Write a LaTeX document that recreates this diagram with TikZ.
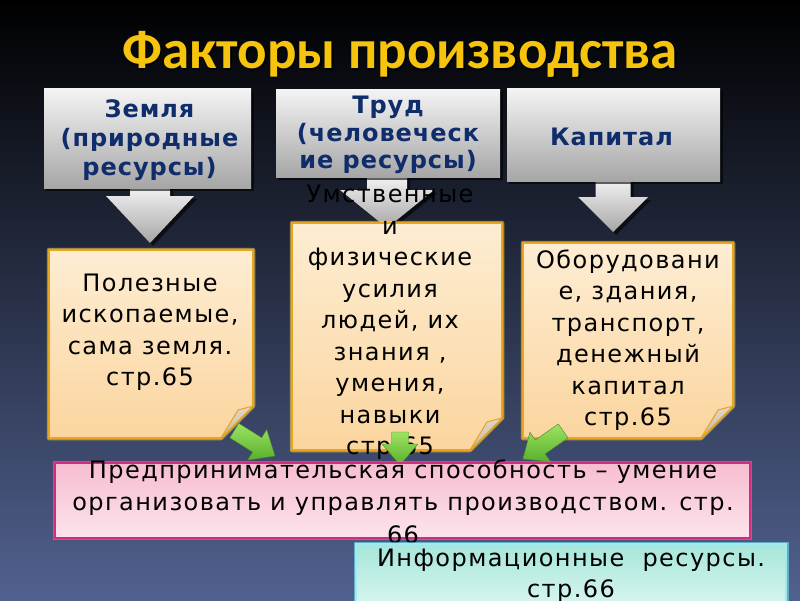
\documentclass[tikz,border=0pt]{standalone}
\usepackage{fontspec}
\newfontfamily\dv{DejaVu Sans}[LetterSpace=6]
\newfontfamily\dvb{DejaVu Sans}[LetterSpace=4]
\newfontfamily\carl{Carlito}
\definecolor{bgmid}{HTML}{1E2943}
\definecolor{bgbot}{HTML}{51618F}
\definecolor{titleyellow}{HTML}{F6C40C}
\definecolor{navytext}{HTML}{0F2C6B}
\definecolor{graytop}{HTML}{F4F4F4}
\definecolor{graybot}{HTML}{A6A6A6}
\definecolor{notetop}{HTML}{FDEDD3}
\definecolor{notebot}{HTML}{FBD59E}
\definecolor{noteline}{HTML}{E9A51E}
\definecolor{noteglow}{HTML}{FFD84A}
\definecolor{flap}{HTML}{CBBBA8}
\definecolor{gtop}{HTML}{9EE264}
\definecolor{gbot}{HTML}{58B02C}
\definecolor{pinktop}{HTML}{F7BDD1}
\definecolor{pinkmid}{HTML}{F2A0BD}
\definecolor{pinkbot}{HTML}{FCE4EC}
\definecolor{pinkline}{HTML}{D22C80}
\definecolor{cyantop}{HTML}{A6E6DA}
\definecolor{cyanmid}{HTML}{5DC4AA}
\definecolor{cyanbot}{HTML}{D8F5EF}
\definecolor{cyanline}{HTML}{74E4EC}
\tikzset{
  grayshade/.style={top color=graytop, bottom color=graybot},
  shadowfill/.style={fill=black, opacity=.6},
  boxtext/.style={font=\dvb\bfseries\fontsize{24}{29}\selectfont, text=navytext, align=center, inner sep=0pt, anchor=base},
  notetext/.style={font=\dv\fontsize{24}{31.5}\selectfont, text=black, align=center, inner sep=0pt, anchor=base},
  bartext/.style={font=\dv\fontsize{24}{32.5}\selectfont, text=black, align=center, inner sep=0pt, anchor=base},
  noteshade/.style={top color=notetop, bottom color=notebot},
}
% sticky note: left, top, right, bottom
\newcommand\stickynote[4]{%
  \draw[noteglow, opacity=.55, line width=4.5pt, line join=round]
    (#1,#2) -- (#3,#2) -- (#3,#4-32) -- (#3-32,#4) -- (#1,#4) -- cycle;
  \shade[noteshade, draw=noteline, line width=1.8pt, line join=round]
    (#1,#2) -- (#3,#2) -- (#3,#4-32) -- (#3-32,#4) -- (#1,#4) -- cycle;
  \shade[top color=flap!60!white, bottom color=flap, draw=noteline, line width=1pt, line join=round]
    (#3,#4-32) -- (#3-15,#4-28) -- (#3-32,#4) -- cycle;
}
% gray down arrow: centre x, top, head top, tip, half shaft, half head
\newcommand\grayarrow[6]{%
  \fill[shadowfill, shift={(3,3)}]
    (#1-#5,#2) -- (#1+#5,#2) -- (#1+#5,#3) -- (#1+#6,#3) -- (#1,#4) -- (#1-#6,#3) -- (#1-#5,#3) -- cycle;
  \shade[grayshade]
    (#1-#5,#2) -- (#1+#5,#2) -- (#1+#5,#3) -- (#1+#6,#3) -- (#1,#4) -- (#1-#6,#3) -- (#1-#5,#3) -- cycle;
}
% green arrow: tip x, tip y, direction angle, length
\newcommand\greenarrow[4]{%
  \begin{scope}[shift={(#1,#2)}, rotate=#3]
    \shade[top color=gtop, bottom color=gbot, draw=gbot!80!black, line width=.4pt, line join=round]
      (0,0) -- (-21,18) -- (-21,8.5) -- (-#4,8.5) -- (-#4,-8.5) -- (-21,-8.5) -- (-21,-18) -- cycle;
  \end{scope}
}
\begin{document}
\begin{tikzpicture}[x=1pt,y=-1pt]
\useasboundingbox (0,0) rectangle (800,600);
% background
\shade[top color=black, middle color=bgmid, bottom color=bgbot] (0,0) rectangle (800,600);

% title
\node[font=\carl\bfseries\fontsize{55}{60}\selectfont, text=black, anchor=base, opacity=.8] (titleshadow) at (401.5,70) {Факторы производства};
\node[font=\carl\bfseries\fontsize{55}{60}\selectfont, text=titleyellow, anchor=base] (title) at (400,68) {Факторы производства};

% gray arrows (behind the boxes)
\grayarrow{150}{185}{196}{243}{20}{44}
\grayarrow{387}{175}{190}{228}{20}{47}
\grayarrow{613}{178}{197}{232}{17.5}{35}

% gray boxes
\fill[shadowfill] (46,91) rectangle (254,191);
\shade[grayshade] (44,88) rectangle (251,188);
\fill[shadowfill] (278,92) rectangle (503,180);
\shade[grayshade] (276,89) rectangle (500,177);
\fill[shadowfill] (509,91) rectangle (723,184);
\shade[grayshade] (507,88) rectangle (720,181);

% (multi-line nodes: anchor base = baseline of the last line)
\node[boxtext] (zemlya) at (149.5,175.5) {Земля\\(природные\\ресурсы)};
\node[boxtext, font=\dvb\bfseries\fontsize{24}{27.5}\selectfont] (trud) at (388,168.5) {Труд\\(человеческ\\ие ресурсы)};
\node[boxtext] (kapital) at (611.5,145) {Капитал};

% sticky notes
\stickynote{49}{250}{253}{438}
\stickynote{292}{223}{502}{450}
\stickynote{523}{243}{733}{438}

\node[notetext] (n1) at (150,385.5) {Полезные\\ископаемые,\\сама земля.\\стр.65};
\node[notetext] (n2) at (390,454.5) {Умственные\\и\\физические\\усилия\\людей, их\\знания ,\\умения,\\навыки\\стр.65};
\node[notetext] (n3) at (628,425.5) {Оборудовани\\е, здания,\\транспорт,\\денежный\\капитал\\стр.65};

% green arrows
\greenarrow{275}{456}{-32}{48}
\greenarrow{400}{465}{-90}{33}
\greenarrow{523}{459}{-145}{49}

% pink bar
\draw[pinkline!60!white, opacity=.5, line width=4pt] (55,463) rectangle (750,538);
\shade[top color=pinktop, middle color=pinkmid, bottom color=pinkbot, draw=pinkline, line width=2.2pt] (55,463) rectangle (750,538);
\node[bartext] (pinktext) at (403,543) {Предпринимательская способность – умение\\организовать и управлять производством. стр.\\66};

% cyan bar
\draw[cyanline, opacity=.6, line width=5pt] (356,544) rectangle (786,606);
\shade[top color=cyantop, middle color=cyanmid, bottom color=cyanbot, draw=cyanline!70!white, line width=1.5pt] (356,544) rectangle (786,606);
\node[bartext, font=\dv\fontsize{24}{31}\selectfont] (cyantext) at (571,597) {Информационные~~ресурсы.\\стр.66};
\end{tikzpicture}
\end{document}
